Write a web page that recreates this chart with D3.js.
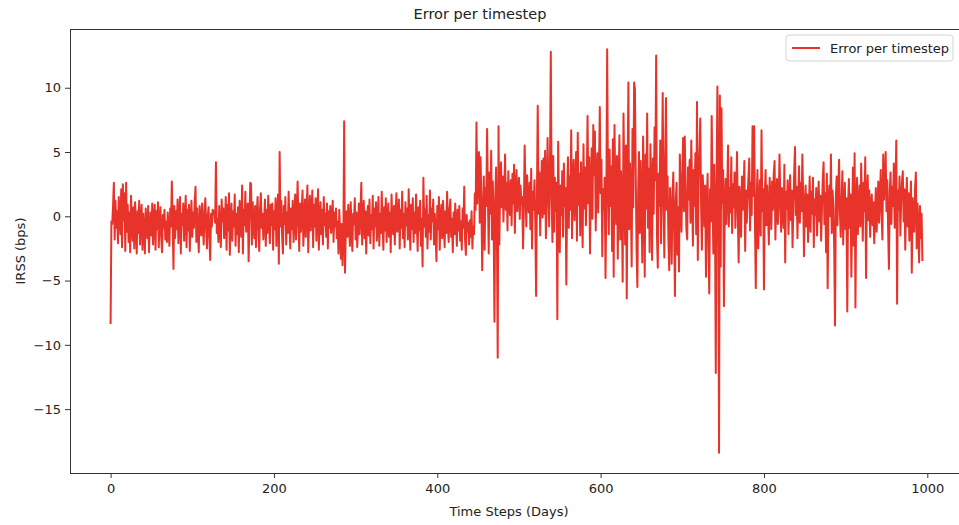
<!DOCTYPE html>
<html>
<head>
<meta charset="utf-8">
<script src="https://cdn.jsdelivr.net/npm/d3@7"></script>
<style>
  body { margin: 0; background: #fff; }
  svg { display: block; font-family: "DejaVu Sans", sans-serif; }
</style>
</head>
<body>
<svg id="chart" width="959" height="525"></svg>
<script>
// Daily IRSS error (bps): calm stretch, volatile stretch, late stretch
const errorsEarly = [
  -8.3, -0.4, -0.6, 0.8, 2.6, -1.8, 1.2, -0.9, 0.4, -2.1,
  1.5, 0.2, -1.4, 2.1, -2.4, 2.5, -0.3, 1.8, -2.7, 2.6,
  -1.2, 0.9, -2.0, 0.3, -2.8, 1.6, -0.5, -1.9, 0.7, -2.5,
  1.1, -0.8, -2.9, 0.4, -1.3, 1.2, -2.2, -0.1, 0.9, -2.6,
  0.2, -1.1, -2.9, 0.6, -0.4, -1.7, 0.8, -2.8, -0.6, 0.3,
  -1.5, 1.0, -2.2, -0.3, 0.9, -2.6, 0.4, -1.0, 1.1, -2.4,
  -0.2, 0.7, -1.6, -2.8, 0.1, -0.9, 0.5, -1.8, -0.4, -2.0,
  0.3, -1.2, -2.3, 0.6, -0.8, 2.7, -0.5, -4.1, 0.8, -1.7,
  0.4, -1.0, 1.3, -2.1, -0.2, 1.5, -2.9, 0.2, -0.7, 1.0,
  -1.9, -0.3, 1.6, -2.4, 0.5, -1.1, 0.9, -2.7, -0.4, 1.2,
  -1.6, 0.3, -0.9, 1.1, 2.3, -2.0, 0.6, -1.3, -2.8, 0.8,
  -0.2, -1.5, 1.0, -0.6, -2.2, 0.4, 1.4, -1.0, -2.5, 0.1,
  0.7, -1.8, -3.4, 0.2, -0.8, 0.5, 0.3, 0.4, -0.5, 4.2,
  -1.3, -0.2, -2.0, 0.8, -0.9, -2.4, 1.3, -0.4, 0.6, -1.7,
  -0.6, 1.5, -2.6, 0.9, -1.1, 1.8, -3.0, -0.3, 1.0, -1.9,
  0.4, -0.8, 1.7, -2.3, 0.2, -1.4, 0.7, -2.8, 1.2, -0.5,
  -1.6, 2.4, -2.9, 0.5, -0.7, 1.9, -1.2, -0.1, 1.0, -3.5,
  -0.3, 2.6, 2.5, -2.2, 1.1, -0.6, -1.7, 0.8, -2.4, 0.3,
  1.5, -1.0, -2.7, 0.6, 1.8, -0.9, 0.2, -1.8, -0.4, 1.3,
  -2.3, 0.5, -1.3, 1.6, -0.2, -2.1, 0.9, -0.7, 1.0, -2.6,
  0.4, -1.0, 1.4, -2.3, 0.1, 1.7, -3.7, 5.0, -0.8, 1.2,
  -1.5, -2.9, 0.8, -0.6, 1.5, -2.2, 0.3, -1.3, 1.9, -0.4,
  -2.5, 0.6, -1.0, 1.2, -2.0, -0.3, 1.7, -1.8, 0.2, 2.7,
  -0.6, -2.7, 1.0, -1.2, 0.4, 2.0, -2.3, -0.2, 1.3, -1.6,
  0.7, 2.4, -2.8, -0.5, 1.6, -1.1, 0.3, 2.0, -2.4, 0.9,
  -0.8, 1.4, -1.9, 0.1, 2.1, -2.6, -0.3, 1.1, -1.4, 0.5,
  -2.2, 1.5, -0.7, 0.2, -1.6, 1.0, -2.5, 0.4, -0.9, 0.8,
  -1.3, -0.1, 1.2, -2.0, 0.3, -0.8, 0.6, -1.7, -0.4, -2.9,
  0.5, -1.2, -3.3, -0.6, -3.8, -2.0, 7.4, -4.4, -1.0, 0.4,
  -1.6, 0.9, -0.5, -2.3, 1.1, -1.0, -2.7, 0.2, -0.6, 1.4,
  -1.8, 0.3, -2.4, -0.9, 1.0, -1.4, 0.5, 2.6, -2.2, -0.3,
  1.2, -1.7, 0.4, -2.9, -0.2, 0.8, -1.5, 1.3, -2.1, 0.1,
  -1.0, 1.6, -2.5, 0.6, -0.8, 1.1, -1.9, -0.4, 1.5, -2.3,
  0.2, -1.3, 1.9, -0.6, -2.6, 0.7, -1.1, 1.4, -2.0, -0.2,
  1.0, -1.6, 0.3, -2.8, 1.7, -0.5, -1.4, 0.8, -2.2, 0.4,
  1.8, -1.2, -0.3, 1.3, -2.5, 0.5, -0.9, 1.9, -1.7, 0.2,
  -2.4, 1.1, -0.7, 0.6, -1.8, 2.1, -0.4, -2.6, 0.9, -1.0,
  1.4, -2.0, 0.3, -1.3, 1.7, -0.6, -2.7, 0.7, -1.1, 1.2,
  -2.3, -0.2, -3.9, 3.0, -0.8, 0.5, -1.6, 1.6, -2.5, 0.1,
  -1.2, 2.0, -1.8, 0.6, -0.4, 1.3, -2.2, 0.2, -1.5, -3.5,
  0.8, -1.0, 1.5, -2.6, -0.3, 0.9, -1.7, 1.2, -0.6, -2.4,
  0.4, -1.3, 1.9, -0.8, -2.0, 0.6, 1.3, -1.6, -0.2, -2.8,
  0.3, -1.4, 1.0, -0.7, -2.3, 0.5, -1.1, 0.8, -1.9, -0.4,
  -2.6, 0.6, -0.9, 2.3, -1.8, -3.0, 0.1, -1.2, -0.5, -2.2,
  -0.3, -1.6, 0.4, -2.5, -0.8, -1.4, 1.8, 0.5, 7.3, 1.0
];

const errorsMid = [
  4.9, 5.0, -0.5, 4.6, 1.2, -4.2, 0.3, 3.1, -2.6, 2.2,
  0.8, 6.8, 1.5, -2.9, 3.4, 0.2, 5.1, -1.8, 2.7, -0.6,
  -8.2, 1.4, 3.8, -0.9, -11.0, 7.0, -2.2, 2.5, 4.2, 0.7,
  3.1, -0.4, 1.9, 4.8, 0.5, 2.6, -1.1, 3.5, 1.2, 0.1,
  2.8, -0.7, 3.3, 1.0, 4.0, -1.3, 2.2, 3.6, 0.4, 1.7,
  3.0, -0.2, 2.4, 0.9, 1.5, -2.5, 0.6, 5.5, 2.1, -0.8,
  3.2, 1.1, 0.3, 2.6, -1.0, 3.7, -2.5, 1.9, 0.5, 2.8,
  -0.4, -6.2, 1.3, 8.6, 0.2, 3.4, -1.5, 2.0, 4.3, -0.1,
  4.5, 0.2, 5.1, -1.7, 1.0, 6.1, 2.3, -0.8, 3.9, 12.8,
  1.6, -2.0, 4.7, -1.2, 3.0, 0.4, 2.6, -8.0, 5.8, 1.1,
  -2.8, 2.4, 0.1, 3.5, -1.6, 4.1, 0.8, 2.2, -5.3, 1.4,
  4.6, -0.9, 3.1, 0.5, 6.7, -1.7, 2.8, 4.4, -0.3, 1.9,
  5.0, -1.9, 6.5, 0.9, 3.3, -1.5, 4.2, 1.2, -2.4, 5.6,
  0.6, 3.8, -0.7, 2.5, 7.8, 1.0, 4.6, -2.9, 2.0, 5.3,
  -0.2, 7.1, 3.2, 6.6, -1.1, 2.7, 4.9, 0.3, 3.6, 8.5,
  1.8, 4.4, -3.1, 2.1, 0.5, 3.0, -4.8, 1.2, 13.0, 2.6,
  -1.4, 5.2, 0.8, 3.9, -2.7, 6.0, -4.7, 7.1, 1.5, -0.6,
  4.7, -3.3, 2.2, 6.3, -1.8, 3.5, 0.4, -5.1, 8.0, 2.9,
  -2.2, 5.5, -6.4, 3.0, 10.4, -1.0, 4.1, 1.6, -3.9, 6.8,
  0.7, 10.4, 9.9, 3.2, -2.5, -5.5, 2.0, 5.0, -1.3, 4.3,
  1.1, -3.6, 6.2, 2.4, -4.7, 4.8, 0.6, 8.0, -0.9, 3.7,
  -2.8, 5.6, 1.9, -3.4, 4.5, 0.2, 6.9, 2.8, 12.5, -1.5,
  -4.0, 3.3, 0.8, 5.9, -2.1, 2.5, 9.6, 1.4, -3.2, 4.0,
  9.2, 0.5, 3.1, -1.8, -4.2, 2.2, 0.4, -3.7, 1.6, 3.4,
  -0.9, -6.2, 1.2, 2.6, -3.0, 0.7, -4.3, 4.8, 2.0, -1.2
];

const errorsLate = [
  3.1, 6.1, 0.4, 6.2, 2.5, -1.0, -1.8, 3.8, 1.3, 4.4,
  -0.5, 5.9, 2.0, -2.3, 3.6, 0.8, 4.9, -1.4, 8.9, -3.4,
  2.7, 5.1, 7.6, 0.9, -2.6, 3.2, 1.5, -0.8, 2.4, -4.7,
  1.0, 3.3, -1.9, -6.0, 2.1, -0.4, 7.8, 1.8, -2.9, 4.0,
  0.6, -12.2, 2.9, 10.1, 1.5, -18.4, 9.4, -3.9, 8.4, 1.0,
  3.6, -7.0, 0.8, 2.9, -0.6, 1.7, 5.5, -0.8, 2.2, 0.3,
  4.6, -1.3, 2.5, 0.7, 3.4, -0.9, 1.8, 5.0, 0.2, -3.6,
  2.3, 0.9, -1.6, 3.1, 0.5, 1.9, 4.3, -2.7, 2.0, -0.5,
  1.4, 3.0, 4.5, -1.1, 2.6, 0.1, 7.0, 1.6, 7.0, -0.8,
  -5.6, 1.2, 3.6, -2.5, 0.9, 2.8, -1.5, 6.7, 0.4, 2.1,
  -5.7, 1.7, 3.6, -0.7, 2.4, 0.2, -2.2, 3.0, 1.1, -1.0,
  2.7, 0.5, 3.3, 4.3, -1.8, 1.4, 2.9, -0.6, 0.8, 4.8,
  1.6, -1.2, 2.2, 0.3, -0.9, 4.0, -3.6, 1.9, 0.6, 2.8,
  -1.4, 1.0, 3.2, -0.3, 2.0, -2.4, 0.7, 3.4, 5.4, 0.1,
  2.3, -1.7, 1.2, 3.9, -0.5, 2.6, 0.4, 4.8, 1.5, -3.1,
  0.9, 2.4, -0.8, 1.7, -2.0, 0.6, 3.1, -1.2, 1.9, 0.2,
  3.0, -2.4, 1.3, 0.1, 2.2, -1.5, 0.8, 2.7, -0.4, 1.6,
  -1.9, 0.5, 2.9, 4.2, -0.6, 1.8, -2.8, 3.3, -5.6, 0.9,
  2.4, 0.0, 4.8, -1.3, 2.0, 0.7, -2.5, -8.5, 1.5, 3.1,
  -0.7, 2.2, 4.4, 0.3, -1.6, 1.1, 3.5, -2.2, 0.6, 2.6,
  -1.0, 1.4, -7.4, 0.8, 2.9, -0.9, 1.7, -4.7, 0.2, 3.8,
  -2.3, 4.9, -7.1, 1.2, 3.0, -1.4, 0.5, 2.4, -0.8, 4.1,
  1.0, -1.9, 2.6, 0.4, 4.6, -4.8, 1.5, 3.2, -0.3, 2.0,
  -1.6, 0.9, 1.7, -0.7, 1.1, -2.1, 0.3, 2.2, -1.2, 0.6,
  2.7, -0.5, 1.4, 3.6, 0.2, -1.8, 4.8, 1.3, 2.5, 5.0,
  0.4, 2.8, -1.0, -4.1, 1.9, 3.4, -0.6, 2.3, 0.8, 4.1,
  -0.9, 1.6, 5.9, -6.8, 2.0, 0.5, 3.1, -1.5, 1.2, 2.7,
  3.5, -0.4, 2.1, -2.6, 1.0, 3.0, -0.8, 1.8, -1.9, 0.7,
  2.7, -4.4, 1.4, 0.3, -1.2, 2.2, 3.4, -2.5, 1.0, -0.9,
  -3.6, 0.8, -1.7, 0.2, -3.4
];

const xTickValues = [0, 200, 400, 600, 800, 1000];
const yTickValues = [-15, -10, -5, 0, 5, 10];
const seriesName = "Error per timestep";
const chartTitle = "Error per timestep";
const xTitle = "Time Steps (Days)";
const yTitle = "IRSS (bps)";

const errors = errorsEarly.concat(errorsMid, errorsLate);
const points = errors.map((v, i) => ({ day: i, value: v }));

const lineColor = "#e8332a";
const inkColor = "#222";
const plot = { left: 70, right: 963, top: 29, bottom: 473 };

const svg = d3.select("#chart");

// 5% padding on both axes, like the default autoscale margins
const xPad = (points.length - 1) * 0.05;
const x = d3.scaleLinear()
  .domain([-xPad, points.length - 1 + xPad])
  .range([plot.left, plot.right]);

const [yMin, yMax] = d3.extent(errors);
const yPad = (yMax - yMin) * 0.05;
const y = d3.scaleLinear()
  .domain([yMin - yPad, yMax + yPad])
  .range([plot.bottom, plot.top]);

// Series line
const clip = svg.append("clipPath").attr("id", "plot-clip")
  .append("rect")
  .attr("x", plot.left).attr("y", plot.top)
  .attr("width", plot.right - plot.left).attr("height", plot.bottom - plot.top);

svg.append("path")
  .datum(points)
  .attr("clip-path", "url(#plot-clip)")
  .attr("fill", "none")
  .attr("stroke", lineColor)
  .attr("stroke-width", 2)
  .attr("stroke-linejoin", "round")
  .attr("stroke-linecap", "square")
  .attr("d", d3.line().x(d => x(d.day)).y(d => y(d.value)));

// Axes
const fmt = v => (v < 0 ? "\u2212" + Math.abs(v) : String(v));

const xAxis = svg.append("g")
  .attr("transform", `translate(0,${plot.bottom})`)
  .call(d3.axisBottom(x).tickValues(xTickValues).tickSize(5).tickPadding(6).tickFormat(fmt));

const yAxis = svg.append("g")
  .attr("transform", `translate(${plot.left},0)`)
  .call(d3.axisLeft(y).tickValues(yTickValues).tickSize(5).tickPadding(4).tickFormat(fmt));

[xAxis, yAxis].forEach(g => {
  g.select(".domain").remove();
  g.selectAll(".tick line").attr("stroke", "#333").attr("stroke-width", 1);
  g.selectAll(".tick text")
    .attr("fill", inkColor)
    .style("font-family", "DejaVu Sans, sans-serif")
    .style("font-size", "13px");
});

// Frame
svg.append("rect")
  .attr("x", plot.left + 0.5).attr("y", plot.top + 0.5)
  .attr("width", plot.right - plot.left).attr("height", plot.bottom - plot.top)
  .attr("fill", "none")
  .attr("stroke", "#333")
  .attr("stroke-width", 1);

// Titles
svg.append("text")
  .attr("x", 480).attr("y", 19)
  .attr("text-anchor", "middle")
  .attr("fill", inkColor)
  .style("font-size", "14.5px")
  .text(chartTitle);

svg.append("text")
  .attr("x", 509).attr("y", 516)
  .attr("text-anchor", "middle")
  .attr("fill", inkColor)
  .style("font-size", "13px")
  .text(xTitle);

svg.append("text")
  .attr("transform", `translate(25,${(plot.top + plot.bottom) / 2}) rotate(-90)`)
  .attr("text-anchor", "middle")
  .attr("fill", inkColor)
  .style("font-size", "13px")
  .text(yTitle);

// Legend
const legend = svg.append("g").attr("transform", "translate(786,35)");
legend.append("rect")
  .attr("width", 167).attr("height", 26).attr("rx", 3)
  .attr("fill", "#fff").attr("fill-opacity", 0.8)
  .attr("stroke", "#d4d4d4");
legend.append("line")
  .attr("x1", 6).attr("x2", 34).attr("y1", 13).attr("y2", 13)
  .attr("stroke", lineColor).attr("stroke-width", 2);
legend.append("text")
  .attr("x", 44).attr("y", 17.5)
  .attr("fill", inkColor)
  .style("font-size", "13px")
  .text(seriesName);
</script>
</body>
</html>
